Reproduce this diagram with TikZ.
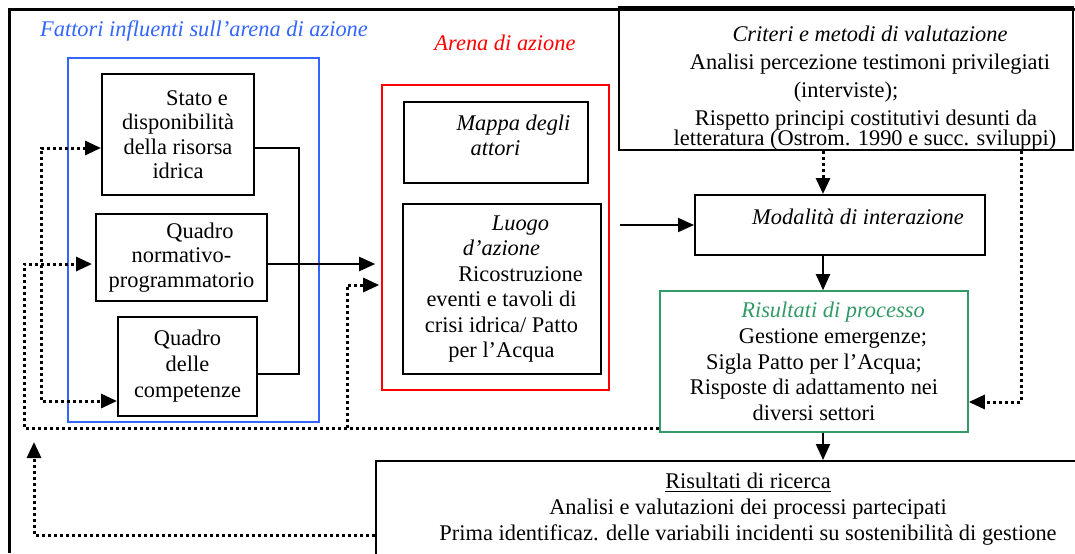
\documentclass[tikz,border=0pt]{standalone}
\usepackage{fontspec}
\setmainfont{Liberation Serif}
\usepackage{tikz}
\usetikzlibrary{shapes,arrows.meta}
\usetikzlibrary{positioning}
\definecolor{blu}{RGB}{51,102,255}
\definecolor{rosso}{RGB}{255,0,0}
\definecolor{verde}{RGB}{51,153,102}
\tikzset{riquadro/.style={draw, rectangle, line width=1pt, align=center, inner sep=0.5pt,
    font=\fontsize{11.2pt}{13pt}\selectfont},
  cornice/.style={draw, rectangle, line width=0.8pt},
  titolo/.style={font=\fontsize{11.2pt}{13pt}\selectfont\itshape},
  puntini/.style={line width=1.5pt, dash pattern=on 1.5pt off 1.5pt},
  linea/.style={line width=1pt}
}

\begin{document}
\begin{tikzpicture}[> = {Triangle[length=8pt,width=7pt]}, x=0.5pt, y=-0.5pt, on grid]
    \useasboundingbox (0,0) rectangle (1075,553);
    \clip (0,0) rectangle (1075,553);
    \draw[line width=1.5pt] (9,553) -- (9,9) -- (1075,9);

    \node[cornice, draw=blu, minimum width=125.5pt, minimum height=182pt] (fattori) at (193.5,240) {};
    \node[titolo, text=blu] (fattori_t) [above right=13pt and 5.25pt of fattori.north, anchor=center] {Fattori influenti sull'arena di azione};
    \node[riquadro, minimum width=76pt, minimum height=60.5pt, font=\fontsize{11.2pt}{12.25pt}\selectfont] (stato) at (178,134.5)
        {\hspace*{19pt}Stato e\\disponibilità\\della risorsa\\idrica};
    \node[riquadro, minimum width=85.5pt, minimum height=43.5pt, font=\fontsize{11.2pt}{12.25pt}\selectfont] (normativo) [below right=61.5pt and 1.75pt of stato]
        {\hspace*{18.5pt}Quadro\\normativo-\hspace*{11.5pt}\\programmatorio};
    \node[riquadro, minimum width=69.5pt, minimum height=49.5pt] (competenze) [below right=54.5pt and 3pt of normativo]
        {Quadro\\delle\\competenze};

    \node[cornice, draw=rosso, minimum width=113.5pt, minimum height=152.5pt] (arena) at (495.5,237.5) {};
    \node[titolo, text=rosso] (arena_t) [above right=20.5pt and 4.75pt of arena.north, anchor=center] {Arena di azione};
    \node[riquadro, minimum width=92pt, minimum height=40.5pt, font=\fontsize{11.2pt}{12.5pt}\selectfont\itshape] (mappa) [above=47.5pt of arena]
        {\hspace*{18pt}Mappa degli\\attori\\[-5.3pt]\mbox{}};
    \node[riquadro, minimum width=99pt, minimum height=85pt, font=\fontsize{11.2pt}{12.75pt}\selectfont] (luogo) [below right=73.25pt and 3pt of mappa]
        {\hspace*{19pt}\textit{Luogo}\\\textit{d'azione}\\\hspace*{19pt}Ricostruzione\\eventi e tavoli di\\crisi idrica/ Patto\\per l'Acqua};

    \node[riquadro, minimum width=227pt, minimum height=68.5pt, inner sep=0pt, font=\fontsize{11.2pt}{14pt}\selectfont] (criteri) at (846,78.5)
        {\mbox{}\\[3pt]\hspace*{24pt}\textit{Criteri e metodi di valutazione}\\\hspace*{24pt}Analisi percezione testimoni privilegiati\\(interviste);\hspace*{19pt}\\\hspace*{20pt}Rispetto principi costitutivi desunti da\\[-4pt]\hspace*{19pt}letteratura (Ostrom. 1990 e succ. sviluppi)};
    \node[riquadro, minimum width=145pt, minimum height=30pt, text depth=8pt, font=\fontsize{11.2pt}{13pt}\selectfont\itshape] (modalita) [below left=73.25pt and 3pt of criteri]
        {\hspace*{18pt}Modalità di interazione};
    \node[riquadro, draw=verde, line width=0.8pt, minimum width=154pt, minimum height=70.5pt, font=\fontsize{11.2pt}{12.9pt}\selectfont] (processo) [below left=68.25pt and 13pt of modalita]
        {\hspace*{19pt}\textcolor{verde}{\textit{Risultati di processo}}\\\hspace*{19pt}Gestione emergenze;\\Sigla Patto per l'Acqua;\\Risposte di adattamento nei\\diversi settori};
    \node[riquadro, minimum width=372pt, minimum height=48pt] (ricerca) [below left=73.75pt and 33pt of processo]
        {\underline{Risultati di ricerca}\\Analisi e valutazioni dei processi partecipati\\Prima identificaz. delle variabili incidenti su sostenibilità di gestione};

    \draw[linea] ([yshift=-6.75pt]stato.east) -| ([xshift=20.5pt,yshift=-3.75pt]competenze.east) -- ([yshift=-3.75pt]competenze.east);
    \path[->, linea] ([yshift=-3.25pt]normativo.east) edge [shorten >=3pt] ([yshift=-13.25pt]arena.west)
              ([xshift=9pt,yshift=32pt]luogo.east) edge (modalita.west)
              ([xshift=-8.5pt]modalita.south) edge ([xshift=4.5pt]processo.north)
              ([xshift=4.5pt]processo.south) edge ([xshift=37.5pt]ricerca.north);

    \path[->, puntini] ([xshift=-11.5pt]criteri.south) edge ([xshift=-8.5pt]modalita.north);
    \draw[->, puntini] ([xshift=87.5pt]criteri.south) |- ([yshift=-20.25pt]processo.east);
    \draw[->, puntini, shorten >=1.5pt] ([yshift=-33.25pt]processo.west) -| ([xshift=-35.5pt,yshift=-3.25pt]normativo.west) -- ([yshift=-3.25pt]normativo.west);
    \draw[->, puntini, shorten >=1pt] ([xshift=-17pt,yshift=-95.25pt]arena.west) |- ([yshift=-23.75pt]arena.west);
    \draw[<->, puntini] ([yshift=-6.75pt]stato.west) -| ([xshift=-38pt,yshift=-17.25pt]competenze.west) -- ([yshift=-17.25pt]competenze.west);
    \draw[->, puntini] ([yshift=-13pt]ricerca.west) -| ([xshift=-170.5pt,yshift=33.5pt]ricerca.west);
\end{tikzpicture}
\end{document}
